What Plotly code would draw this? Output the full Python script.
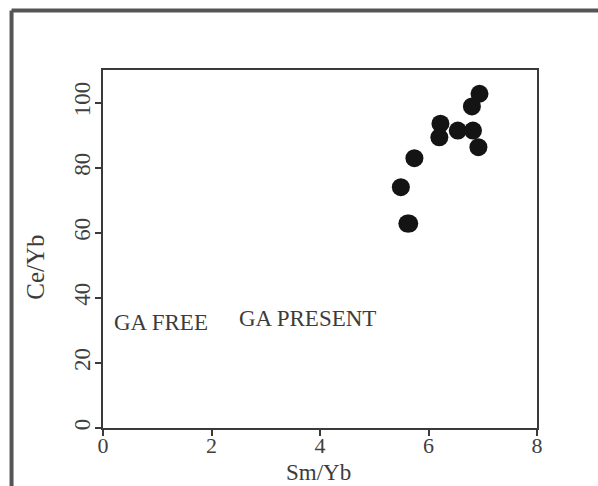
import plotly.graph_objects as go

sm_yb = [6.94, 6.80, 6.22, 6.20, 6.54, 6.82, 6.92, 5.74, 5.49, 5.61, 5.645]
ce_yb = [102.7, 98.8, 93.5, 89.3, 91.4, 91.4, 86.3, 82.9, 74.0, 62.8, 62.8]

x_ticks = [0, 2, 4, 6, 8]
y_ticks = [0, 20, 40, 60, 80, 100]

labels = ["GA FREE", "GA PRESENT"]
label_x = [0.17, 2.47]
label_y = [32.5, 33.8]

FONT = "Liberation Serif, Times New Roman, serif"
AX = "#3a3a3a"
TXT = "#3c3c3c"

fig = go.Figure()
fig.add_trace(go.Scatter(
    x=sm_yb, y=ce_yb, mode="markers",
    marker=dict(size=18, color="#141414", line=dict(width=0)),
    showlegend=False, hoverinfo="x+y",
))

for t, xx, yy in zip(labels, label_x, label_y):
    fig.add_annotation(x=xx, y=yy, text=t, showarrow=False, xanchor="left",
                       yanchor="middle", font=dict(family=FONT, size=23, color=TXT))

L, R, T, B = 102.5, 536.7, 70, 427.7
W, H = 598, 486
pw, ph = R - L, B - T

def px2paper_x(px):
    return (px - L) / pw

def py2paper_y(py):
    return (B - py) / ph

# axis titles
fig.add_annotation(xref="paper", yref="paper", x=px2paper_x(318), y=py2paper_y(472),
                   text="Sm/Yb", showarrow=False, xanchor="center", yanchor="middle",
                   font=dict(family=FONT, size=23, color=TXT))
fig.add_annotation(xref="paper", yref="paper", x=px2paper_x(35), y=py2paper_y(267),
                   text="Ce/Yb", showarrow=False, xanchor="center", yanchor="middle",
                   textangle=-90, font=dict(family=FONT, size=25, color=TXT))

# outer frame (top and left borders of the figure panel)
fig.add_shape(type="line", xref="paper", yref="paper",
              x0=px2paper_x(11), x1=px2paper_x(620), y0=py2paper_y(10.5), y1=py2paper_y(10.5),
              line=dict(color="#555555", width=4))
fig.add_shape(type="line", xref="paper", yref="paper",
              x0=px2paper_x(11), x1=px2paper_x(11), y0=py2paper_y(10.5), y1=py2paper_y(500),
              line=dict(color="#555555", width=4))

fig.update_layout(
    width=W, height=H,
    margin=dict(l=L, r=W - R, t=T, b=H - B, pad=0),
    paper_bgcolor="white", plot_bgcolor="white",
    font=dict(family=FONT, size=22, color="#404040"),
    xaxis=dict(range=[0, 8], tickvals=x_ticks, ticks="outside", ticklen=6, tickwidth=2,
               tickcolor=AX, showline=True, linecolor=AX, linewidth=2, mirror=True,
               showgrid=False, zeroline=False, automargin=False, ticklabelstandoff=-9,
               tickfont=dict(size=22)),
    yaxis=dict(range=[0, 110], tickvals=y_ticks, ticks="outside", ticklen=6, tickwidth=2,
               tickcolor=AX, showline=True, linecolor=AX, linewidth=2, mirror=True,
               showgrid=False, zeroline=False, tickangle=-90, ticklabelstandoff=-4,
               automargin=False,
               tickfont=dict(size=23)),
)

fig.write_html("out.html")
